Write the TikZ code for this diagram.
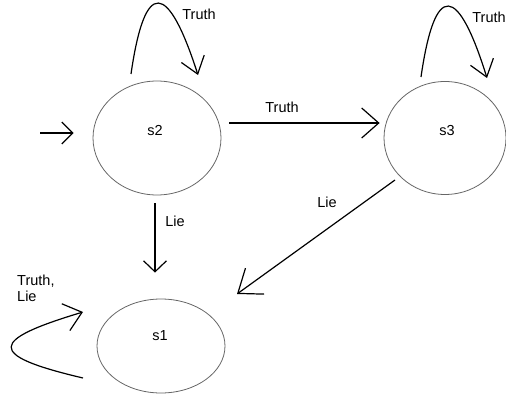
\documentclass[tikz,border=0pt]{standalone}
\usepackage{fontspec}
\setmainfont{Liberation Sans}
\usetikzlibrary{shapes.geometric,arrows.meta}
\begin{document}
\begin{tikzpicture}[x=1pt,y=-1pt,
  state/.style={draw=black!60,line width=0.8pt,ellipse,inner sep=0pt},
  lbl/.style={font=\fontsize{14.5}{17}\selectfont,anchor=base,inner sep=0pt},
  edge/.style={line width=1.2pt,black},
  tipw/.style 2 args={-{Straight Barb[length=#1,width=#2]}}]
\useasboundingbox (0,0) rectangle (506,398);
% states
\node[state,minimum width=128pt,minimum height=114pt] (s2) at (157,138) {};
\node[state,minimum width=122pt,minimum height=113pt] (s3) at (445,138) {};
\node[state,minimum width=128pt,minimum height=94pt] (s1) at (161,346) {};
\node[lbl] (s2t) at (155,136) {s2};
\node[lbl] (s3t) at (447,136) {s3};
\node[lbl] (s1t) at (160,340) {s1};
% initial arrow
\coordinate (init) at (40,133);
\draw[edge,tipw={11pt}{22pt}] (init) -- ([shift={(-19,-5)}]s2.west);
% s2 self loop
\draw[edge,tipw={16pt}{24pt}] ([shift={(-26,-64)}]s2.center) .. controls (145,-23) and (168,-18) .. ([shift={(41,-63)}]s2.center);
\node[lbl] (l22) at (199,20) {Truth};
% s3 self loop
\draw[edge,tipw={16pt}{24pt}] ([shift={(-24,-61)}]s3.center) .. controls (435,-20) and (458,-15) .. ([shift={(42,-60)}]s3.center);
\node[lbl] (l33) at (489,23) {Truth};
% s2 -> s3
\draw[edge,tipw={17pt}{30pt}] ([shift={(8,-15)}]s2.east) -- ([shift={(-4,-15)}]s3.west);
\node[lbl] (l23) at (282,113) {Truth};
% s2 -> s1
\draw[edge,tipw={11pt}{23pt}] ([shift={(-2,8)}]s2.south) -- ([shift={(-6,-26)}]s1.north);
\node[lbl] (l21) at (175,227) {Lie};
% s3 -> s1
\draw[edge,tipw={21pt}{32pt}] ([shift={(-50,42)}]s3.center) -- ([shift={(76,-52)}]s1.center);
\node[lbl] (l31) at (327,208) {Lie};
% s1 self loop
\draw[edge,tipw={17pt}{28pt}] ([shift={(-78,32)}]s1.center) .. controls (-15,355) and (-10,340) .. ([shift={(-78,-34)}]s1.center);
\node[lbl,anchor=base west] (l11a) at (17,285) {Truth,};
\node[lbl,anchor=base west] (l11b) at (17,301) {Lie};
\end{tikzpicture}
\end{document}
